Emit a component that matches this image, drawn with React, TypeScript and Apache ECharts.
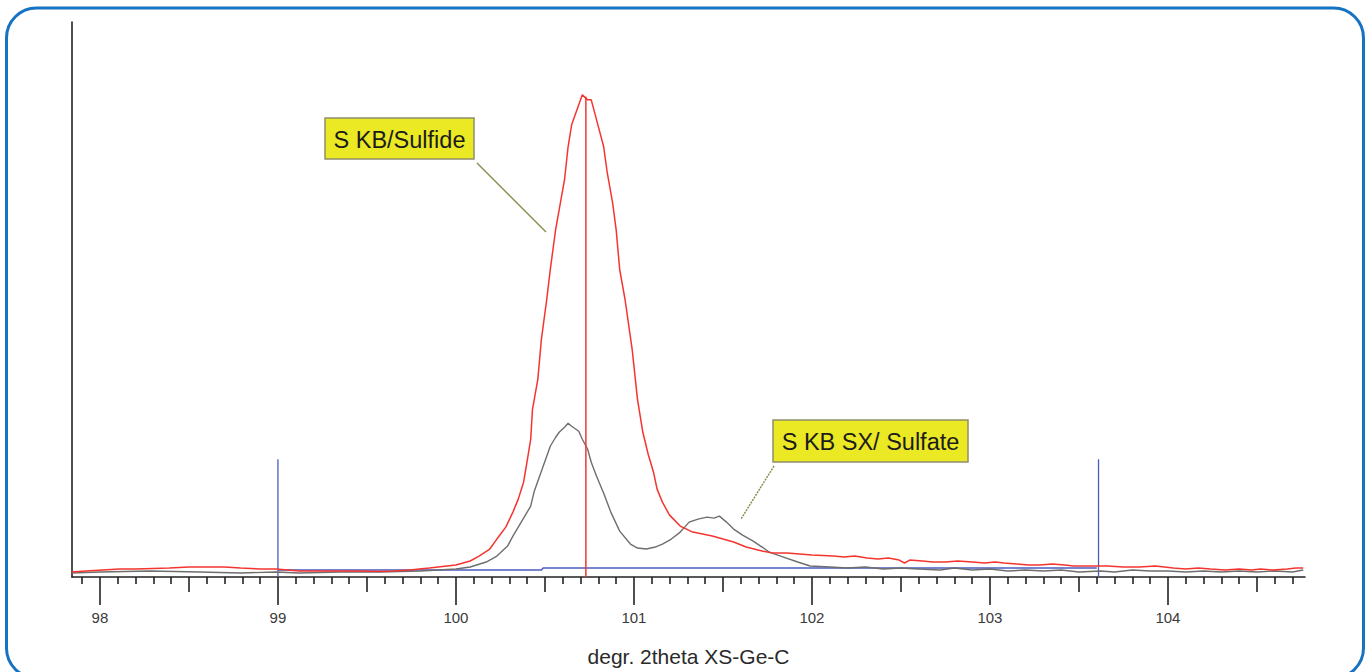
import React, { useEffect, useRef } from "react";
import * as echarts from "echarts";

// x axis: degrees 2theta
const X_MIN = 97.843;
const X_MAX = 104.77;
const Y_MAX = 556;

const majorTicks = [98, 99, 100, 101, 102, 103, 104];
const mediumTicks = [98.5, 99.5, 100.5, 101.5, 102.5, 103.5, 104.5];
const minorTicks = [
  97.9, 98.1, 98.2, 98.3, 98.4, 98.6, 98.7, 98.8, 98.9,
  99.1, 99.2, 99.3, 99.4, 99.6, 99.7, 99.8, 99.9,
  100.1, 100.2, 100.3, 100.4, 100.6, 100.7, 100.8, 100.9,
  101.1, 101.2, 101.3, 101.4, 101.6, 101.7, 101.8, 101.9,
  102.1, 102.2, 102.3, 102.4, 102.6, 102.7, 102.8, 102.9,
  103.1, 103.2, 103.3, 103.4, 103.6, 103.7, 103.8, 103.9,
  104.1, 104.2, 104.3, 104.4, 104.6, 104.7,
];

// S KB / Sulfide (red)
const sulfideX = [
  97.84, 97.92, 98.11, 98.2, 98.39, 98.5, 98.56, 98.7, 98.79, 98.9, 98.99, 99.12, 99.25,
  99.35, 99.45, 99.57, 99.65, 99.74, 99.85,
  100.0, 100.08, 100.13, 100.19, 100.23, 100.28, 100.32, 100.35, 100.38, 100.4, 100.42,
  100.43, 100.46, 100.48, 100.51, 100.53, 100.56, 100.59, 100.61, 100.63, 100.65, 100.67,
  100.7, 100.71, 100.74, 100.76, 100.79, 100.83, 100.85, 100.88, 100.9, 100.92, 100.95,
  100.99, 101.02, 101.05, 101.08, 101.11, 101.13, 101.16, 101.2, 101.26, 101.33, 101.44,
  101.56, 101.63, 101.72, 101.78, 101.86, 101.93, 102.0, 102.06, 102.12, 102.18, 102.24,
  102.31, 102.37, 102.43, 102.49, 102.52, 102.55, 102.62, 102.68, 102.75, 102.82, 102.9,
  102.97, 103.03, 103.08, 103.15, 103.22, 103.28, 103.35, 103.42, 103.47, 103.55, 103.66,
  103.75, 103.84, 103.93, 104.03, 104.1, 104.17, 104.24, 104.32, 104.4, 104.47, 104.52,
  104.59, 104.67, 104.72, 104.76,
];
const sulfideY = [
  5, 6, 8, 8, 9, 10, 10, 10, 9, 8, 8, 6, 6,
  6, 6, 5.5, 6, 7, 9,
  12, 16, 21, 28, 38, 50, 65, 78, 95, 116, 138,
  168, 198, 238, 278, 308, 348, 378, 398, 431, 453, 463,
  478, 483, 478, 478, 458, 431, 405, 375, 348, 308, 278,
  228, 178, 145, 123, 105, 88, 75, 62, 51, 45, 41,
  35, 30, 26, 24, 24, 23, 22, 21.5, 21, 20, 21,
  19, 18, 19, 17, 14, 17, 16, 15, 15, 16, 15,
  14, 15, 14, 13, 12, 12, 13, 12, 11, 11, 11,
  10, 10, 11, 9, 8, 9, 8, 7, 8, 7, 8,
  7, 8, 9, 9,
];

// S KB SX / Sulfate (grey)
const sulfateX = [
  97.84, 98.0, 98.28, 98.56, 98.79, 98.99, 99.12, 99.35, 99.57, 99.8, 100.0, 100.08,
  100.17, 100.23, 100.29, 100.32, 100.37, 100.42, 100.44, 100.47, 100.5, 100.53, 100.56,
  100.58, 100.61, 100.63, 100.65, 100.69, 100.71, 100.74, 100.76, 100.79, 100.83, 100.87,
  100.92, 100.98, 101.02, 101.07, 101.12, 101.16, 101.21, 101.26, 101.29, 101.31, 101.36,
  101.41, 101.45, 101.48, 101.52, 101.56, 101.61, 101.67, 101.72, 101.76, 101.84, 101.92,
  101.99, 102.1, 102.2, 102.3, 102.4, 102.5, 102.6, 102.72, 102.8, 102.9, 103.0,
  103.1, 103.2, 103.3, 103.4, 103.5, 103.62, 103.7, 103.8, 103.9, 104.0, 104.1,
  104.2, 104.3, 104.4, 104.5, 104.6, 104.7, 104.76,
];
const sulfateY = [
  4, 5, 6, 5, 4, 5, 4, 5, 5, 6, 8, 10,
  15, 21, 31, 41, 56, 71, 86, 101, 116, 131, 140,
  145, 150, 154, 151, 146, 138, 128, 115, 101, 84, 65,
  46, 33, 29, 28, 30, 33, 38, 45, 51, 55, 58,
  60, 59, 61, 55, 48, 42, 36, 30, 25, 20, 15,
  11, 10, 9, 10, 8, 9, 8, 7, 9, 7, 8,
  6, 7, 6, 7, 5, 6, 5, 7, 6, 6, 5,
  6, 5, 6, 5, 6, 5, 7,
];

// background (blue) between the two markers
const backgroundX = [99.0, 100.48, 100.49, 103.6];
const backgroundY = [7, 7, 9, 9];

// marker positions
const bgMarkers = [99.0, 103.61];
const bgMarkerHeight = 118;
const peakMarker = 100.73;
const peakMarkerHeight = 481;

const labelSulfide = "S KB/Sulfide";
const labelSulfate = "S KB SX/ Sulfate";
const xAxisName = "degr. 2theta XS-Ge-C";

const zip = (xs: number[], ys: number[]) => xs.map((x, i) => [x, ys[i]]);

export default function App() {
  const ref = useRef<HTMLDivElement>(null);
  useEffect(() => {
    if (!ref.current) return;
    const chart = echarts.init(ref.current, undefined, { renderer: "svg" });
    const axisCommon = {
      type: "value" as const,
      min: X_MIN,
      max: X_MAX,
      position: "bottom" as const,
      splitLine: { show: false },
    };
    const labelBox = (x: number, y: number, w: number, h: number, text: string) => ({
      type: "group",
      x,
      y,
      children: [
        {
          type: "rect",
          shape: { x: 0, y: 0, width: w, height: h },
          style: { fill: "#ebe824", stroke: "#8f8f6c", lineWidth: 1.5 },
        },
        {
          type: "text",
          style: {
            text,
            x: w / 2,
            y: h / 2 + 1,
            align: "center",
            verticalAlign: "middle",
            font: '23.5px "Liberation Sans", Arial, sans-serif',
            fill: "#1c1c1c",
          },
        },
      ],
    });
    chart.setOption({
      animation: false,
      backgroundColor: "#ffffff",
      grid: { left: 72, right: 65, top: 22, bottom: 94 },
      xAxis: [
        {
          ...axisCommon,
          axisLine: { show: true, onZero: false, lineStyle: { color: "#222", width: 1.6 } },
          axisTick: { show: true, length: 28, customValues: majorTicks, lineStyle: { color: "#222", width: 1.6 } },
          axisLabel: {
            show: true,
            customValues: majorTicks,
            margin: 33,
            fontSize: 15,
            fontFamily: '"Liberation Sans", Arial, sans-serif',
            color: "#3a3a3a",
          },
          name: xAxisName,
          nameLocation: "middle",
          nameGap: 69,
          nameTextStyle: {
            fontSize: 21,
            fontFamily: '"Liberation Sans", Arial, sans-serif',
            color: "#2a2a2a",
          },
        },
        {
          ...axisCommon,
          axisLine: { show: false, onZero: false },
          axisTick: { show: true, length: 15, customValues: mediumTicks, lineStyle: { color: "#222", width: 1.6 } },
          axisLabel: { show: false },
        },
        {
          ...axisCommon,
          axisLine: { show: false, onZero: false },
          axisTick: { show: true, length: 7, customValues: minorTicks, lineStyle: { color: "#222", width: 1.6 } },
          axisLabel: { show: false },
        },
      ],
      yAxis: {
        type: "value",
        min: 0,
        max: Y_MAX,
        axisLine: { show: true, onZero: false, lineStyle: { color: "#222", width: 1.6 } },
        axisTick: { show: false },
        axisLabel: { show: false },
        splitLine: { show: false },
      },
      series: [
        {
          type: "line",
          data: zip(backgroundX, backgroundY),
          symbol: "none",
          lineStyle: { color: "#4a5cc2", width: 1.5 },
          z: 2,
        },
        ...bgMarkers.map((m) => ({
          type: "line",
          data: [
            [m, 0],
            [m, bgMarkerHeight],
          ],
          symbol: "none",
          lineStyle: { color: "#4a5cc2", width: 1.3 },
          z: 2,
        })),
        {
          type: "line",
          data: zip(sulfateX, sulfateY),
          symbol: "none",
          lineStyle: { color: "#6e6e6e", width: 1.4 },
          z: 3,
        },
        {
          type: "line",
          data: zip(sulfideX, sulfideY),
          symbol: "none",
          lineStyle: { color: "#f4352f", width: 1.5 },
          z: 4,
        },
        {
          type: "line",
          data: [
            [peakMarker, 0],
            [peakMarker, peakMarkerHeight],
          ],
          symbol: "none",
          lineStyle: { color: "#f4352f", width: 1.5 },
          z: 4,
        },
      ],
      graphic: [
        {
          type: "rect",
          shape: { x: 6.5, y: 8, width: 1357, height: 670, r: 30 },
          style: { fill: "none", stroke: "#1673c2", lineWidth: 3 },
          z: 0,
          silent: true,
        },
        {
          type: "polyline",
          shape: { points: [[477, 163], [510, 196], [546, 232]] },
          style: { stroke: "#8c8c50", lineWidth: 1.5, fill: "none" },
        },
        {
          type: "line",
          shape: { x1: 774, y1: 466, x2: 741, y2: 519 },
          style: { stroke: "#8c8c50", lineWidth: 1.5, lineDash: [2, 1] },
        },
        labelBox(325, 118, 149, 41, labelSulfide),
        labelBox(773, 420, 195, 42, labelSulfate),
      ],
    });
    return () => chart.dispose();
  }, []);
  return (
    <div
      ref={ref}
      style={{ position: "absolute", left: 0, top: 0, width: 1370, height: 672, background: "#fff" }}
    />
  );
}
